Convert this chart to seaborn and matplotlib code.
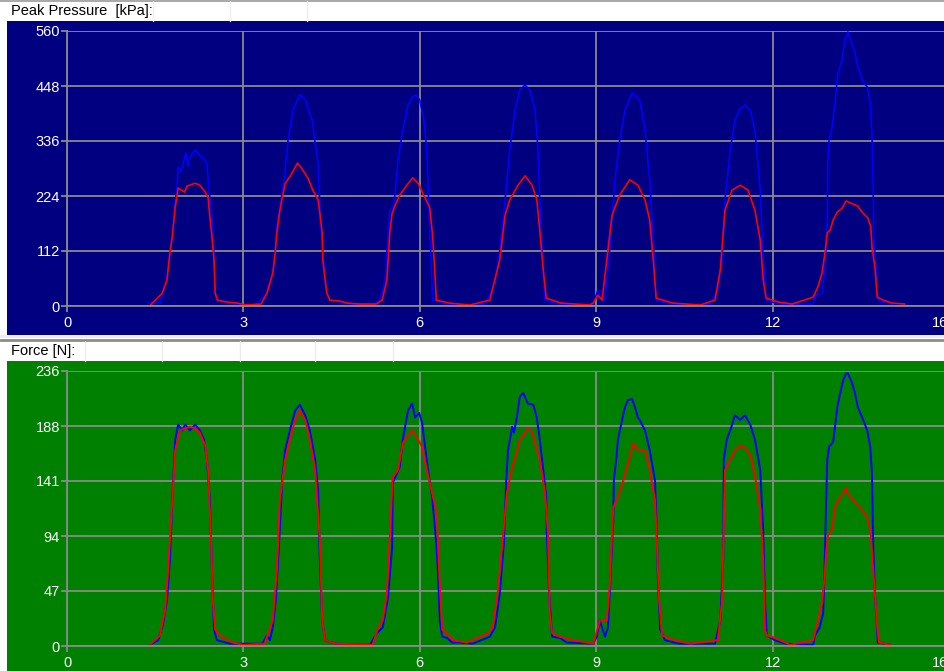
import matplotlib
matplotlib.use("Agg")
import numpy as np
import pandas as pd
import matplotlib.pyplot as plt
from matplotlib.patches import Rectangle
from matplotlib.lines import Line2D
import seaborn as sns

# ---------------- data ----------------
# Peak pressure [kPa], right foot (blue trace)
pressure_right_t = [1.38, 1.58, 1.63, 1.70, 1.75, 1.79, 1.82, 1.87, 1.89, 1.94, 1.99, 2.02, 2.06, 2.09, 2.18, 2.26, 2.35, 2.38, 2.41, 2.45, 2.48, 2.50, 2.52, 2.55, 2.72, 2.91, 3.03,
                    3.23, 3.40, 3.50, 3.54, 3.57, 3.62, 3.67, 3.71, 3.76, 3.84, 3.96, 4.06, 4.13, 4.17, 4.22, 4.27, 4.30, 4.35, 4.39, 4.42, 4.47, 4.69, 4.85,
                    5.20, 5.32, 5.41, 5.46, 5.49, 5.56, 5.63, 5.71, 5.80, 5.87, 5.94, 6.00, 6.07, 6.12, 6.15, 6.19, 6.22, 6.40, 6.60,
                    7.11, 7.28, 7.36, 7.45, 7.53, 7.62, 7.70, 7.79, 7.87, 7.96, 8.01, 8.04, 8.08, 8.13, 8.30, 8.60,
                    8.95, 9.03, 9.10, 9.15, 9.23, 9.32, 9.40, 9.49, 9.61, 9.74, 9.83, 9.91, 9.97, 10.02, 10.20, 10.50,
                    10.94, 11.07, 11.14, 11.19, 11.28, 11.36, 11.45, 11.53, 11.62, 11.70, 11.79, 11.84, 11.89, 12.05, 12.30,
                    12.47, 12.69, 12.72, 12.84, 12.89, 12.93, 12.94, 12.96, 13.01, 13.06, 13.11, 13.18, 13.23, 13.28, 13.33, 13.40, 13.45, 13.54, 13.61, 13.66, 13.69, 13.71, 13.72, 13.76, 13.78, 13.83, 14.00, 14.05]
pressure_right = [6, 6, 26, 53, 108, 140, 189, 242, 283, 275, 297, 311, 285, 303, 318, 307, 297, 287, 242, 201, 155, 94, 26, 12, 6, 4, 0,
                  4, 26, 67, 108, 161, 195, 242, 277, 338, 399, 430, 419, 389, 379, 332, 291, 201, 108, 53, 26, 12, 8, 4,
                  4, 12, 53, 150, 195, 205, 297, 358, 409, 425, 430, 419, 379, 318, 216, 94, 12, 6, 2,
                  4, 47, 114, 216, 318, 399, 440, 450, 440, 399, 318, 216, 114, 12, 6, 2,
                  4, 33, 12, 12, 114, 257, 338, 399, 434, 419, 358, 257, 134, 12, 6, 2,
                  4, 33, 94, 216, 318, 379, 403, 409, 399, 358, 236, 94, 12, 6, 2,
                  4, 4, 22, 26, 73, 175, 297, 338, 364, 413, 474, 501, 542, 558, 542, 515, 487, 456, 446, 413, 352, 242, 140, 73, 18, 8, 8, 2]

# Peak pressure [kPa], left foot (red trace)
pressure_left_t = [1.42, 1.62, 1.70, 1.75, 1.79, 1.84, 1.89, 1.95, 2.00, 2.04, 2.18, 2.26, 2.35, 2.40, 2.43, 2.46, 2.50, 2.52, 2.56, 2.72, 2.90, 3.03,
                   3.30, 3.40, 3.50, 3.54, 3.57, 3.62, 3.71, 3.79, 3.92, 4.01, 4.10, 4.18, 4.27, 4.30, 4.34, 4.35, 4.39, 4.42, 4.47, 4.64, 4.76, 4.98,
                   5.26, 5.36, 5.44, 5.49, 5.53, 5.58, 5.66, 5.78, 5.88, 5.97, 6.09, 6.17, 6.22, 6.26, 6.28, 6.50, 6.85,
                   7.19, 7.36, 7.45, 7.53, 7.67, 7.79, 7.91, 7.99, 8.04, 8.10, 8.15, 8.40, 8.89,
                   8.95, 9.03, 9.10, 9.18, 9.27, 9.40, 9.57, 9.71, 9.83, 9.91, 9.97, 10.02, 10.30, 10.77,
                   11.02, 11.11, 11.19, 11.31, 11.45, 11.58, 11.70, 11.79, 11.84, 11.89, 12.10, 12.33,
                   12.69, 12.77, 12.84, 12.89, 12.93, 12.98, 13.03, 13.10, 13.18, 13.25, 13.32, 13.44, 13.54, 13.62, 13.67, 13.69, 13.74, 13.78, 13.88, 14.03, 14.25]
pressure_left = [2, 26, 53, 108, 140, 201, 240, 236, 232, 244, 250, 246, 232, 220, 181, 148, 94, 26, 12, 8, 6, 2,
                 4, 26, 67, 108, 150, 195, 250, 263, 291, 277, 260, 236, 216, 189, 149, 94, 53, 26, 12, 10, 6, 4,
                 4, 12, 53, 150, 189, 205, 226, 246, 261, 250, 220, 200, 140, 60, 12, 6, 2,
                 12, 94, 185, 216, 246, 265, 246, 216, 155, 73, 16, 6, 2,
                 6, 22, 12, 94, 185, 226, 257, 246, 216, 175, 94, 16, 6, 2,
                 12, 73, 195, 236, 246, 236, 195, 134, 53, 16, 8, 4,
                 18, 39, 67, 108, 149, 155, 175, 191, 199, 214, 210, 204, 189, 179, 161, 120, 79, 18, 12, 6, 4]

# Force [N], right foot (blue trace)
force_right_t = [1.41, 1.55, 1.63, 1.70, 1.75, 1.79, 1.84, 1.89, 1.96, 2.01, 2.09, 2.18, 2.26, 2.33, 2.38, 2.43, 2.47, 2.50, 2.55, 2.77,
                 3.32, 3.40, 3.45, 3.50, 3.55, 3.61, 3.66, 3.71, 3.79, 3.88, 3.96, 4.05, 4.13, 4.22, 4.27, 4.30, 4.34, 4.39, 4.56,
                 5.15, 5.27, 5.37, 5.46, 5.53, 5.54, 5.61, 5.66, 5.71, 5.80, 5.87, 5.92, 5.99, 6.04, 6.09, 6.14, 6.21, 6.28, 6.31, 6.34, 6.38, 6.46, 6.55, 6.68, 6.90,
                 7.19, 7.28, 7.36, 7.43, 7.47, 7.50, 7.57, 7.60, 7.65, 7.70, 7.76, 7.84, 7.93, 7.99, 8.04, 8.10, 8.15, 8.16, 8.20, 8.25, 8.38, 8.50, 8.95,
                 9.01, 9.06, 9.15, 9.20, 9.23, 9.29, 9.30, 9.34, 9.37, 9.44, 9.49, 9.54, 9.61, 9.66, 9.71, 9.74, 9.83, 9.91, 10.00, 10.03, 10.05, 10.09, 10.17, 10.40,
                 11.02, 11.11, 11.16, 11.17, 11.22, 11.28, 11.36, 11.45, 11.53, 11.62, 11.70, 11.79, 11.84, 11.87, 11.90, 12.04, 12.21,
                 12.69, 12.72, 12.80, 12.86, 12.88, 12.91, 12.93, 12.96, 13.03, 13.06, 13.10, 13.15, 13.20, 13.25, 13.28, 13.35, 13.40, 13.45, 13.54, 13.61, 13.66, 13.69, 13.71, 13.74, 13.78, 13.79, 14.00]
force_right = [1, 5, 18, 39, 74, 125, 177, 190, 185, 190, 185, 190, 185, 177, 160, 125, 57, 14, 5, 2,
               2, 9, 5, 16, 39, 91, 142, 168, 185, 202, 207, 198, 185, 160, 134, 74, 22, 5, 2,
               1, 11, 16, 42, 85, 140, 148, 154, 177, 202, 208, 196, 200, 191, 171, 151, 128, 88, 63, 22, 8, 7, 3, 3, 2,
               8, 16, 45, 88, 142, 168, 188, 183, 196, 214, 217, 208, 207, 196, 177, 151, 128, 97, 45, 8, 7, 3, 2,
               8, 22, 8, 16, 45, 108, 142, 160, 177, 194, 205, 211, 212, 205, 196, 194, 185, 168, 142, 99, 57, 14, 5, 2,
               2, 22, 74, 160, 177, 185, 198, 194, 198, 190, 177, 151, 99, 39, 9, 5, 2,
               1, 9, 16, 28, 59, 123, 160, 171, 175, 188, 205, 217, 228, 234, 234, 226, 217, 205, 194, 185, 171, 148, 88, 45, 11, 3, 1]

# Force [N], left foot (red trace)
force_left_t = [1.41, 1.58, 1.67, 1.72, 1.79, 1.84, 1.92, 2.01, 2.09, 2.18, 2.26, 2.35, 2.40, 2.45, 2.48, 2.52, 2.60, 2.81, 3.00,
                3.36, 3.42, 3.50, 3.57, 3.62, 3.71, 3.79, 3.88, 3.96, 4.05, 4.13, 4.22, 4.30, 4.34, 4.39, 4.56,
                5.20, 5.29, 5.37, 5.44, 5.49, 5.54, 5.63, 5.71, 5.80, 5.87, 5.95, 6.04, 6.12, 6.21, 6.29, 6.33, 6.38, 6.46, 6.56, 6.80,
                7.16, 7.24, 7.33, 7.41, 7.48, 7.57, 7.65, 7.70, 7.79, 7.84, 7.91, 7.96, 8.04, 8.13, 8.18, 8.21, 8.25, 8.38, 8.61, 8.95,
                9.03, 9.06, 9.18, 9.23, 9.29, 9.37, 9.46, 9.54, 9.63, 9.71, 9.83, 9.91, 10.00, 10.03, 10.07, 10.12, 10.34, 10.60,
                11.07, 11.14, 11.19, 11.28, 11.36, 11.45, 11.53, 11.62, 11.70, 11.79, 11.84, 11.87, 11.90, 12.04, 12.21, 12.30,
                12.69, 12.76, 12.84, 12.88, 12.91, 12.94, 13.01, 13.06, 13.11, 13.20, 13.25, 13.28, 13.40, 13.52, 13.61, 13.67, 13.69, 13.74, 13.78, 13.81, 14.00]
force_left = [1, 9, 31, 65, 125, 168, 185, 187, 188, 187, 183, 172, 151, 91, 39, 14, 9, 3, 1,
              2, 11, 22, 65, 125, 160, 177, 194, 202, 194, 177, 151, 91, 22, 5, 2,
              1, 16, 22, 45, 94, 145, 151, 174, 181, 185, 179, 171, 151, 131, 114, 63, 14, 11, 5, 3,
              11, 16, 48, 91, 131, 153, 166, 177, 183, 187, 184, 174, 160, 131, 97, 28, 11, 8, 5, 2,
              16, 22, 22, 51, 119, 128, 142, 157, 174, 168, 168, 151, 125, 91, 39, 9, 5, 2,
              5, 39, 151, 160, 168, 172, 170, 164, 146, 117, 74, 14, 9, 7, 3, 1,
              5, 20, 37, 57, 80, 95, 100, 119, 125, 131, 136, 131, 123, 117, 110, 97, 80, 45, 16, 3, 1]

x_tick_values = [0, 3, 6, 9, 12]
x_tick_labels = ["0", "3", "6", "9", "12"]
x_end_label = "16"
pressure_tick_labels = ["0", "112", "224", "336", "448", "560"]
force_tick_labels = ["0", "47", "94", "141", "188", "236"]
pressure_title = "Peak Pressure  [kPa]:"
force_title = "Force [N]:"

# ---------------- layout ----------------
sns.set_theme(style="white")
plt.rcParams["font.family"] = ["Liberation Sans", "DejaVu Sans"]

W, H = 944, 671
fig = plt.figure(figsize=(W / 100, H / 100), dpi=100)
fig.patch.set_facecolor("white")

FS = 10.5


def fx(px):
    return px / W


def fy(py):
    return 1 - py / H


def band(x0, y0, x1, y1, color, z=-5):
    fig.add_artist(Rectangle((fx(x0), fy(y1)), fx(x1) - fx(x0), fy(y0) - fy(y1),
                             transform=fig.transFigure, facecolor=color,
                             edgecolor="none", zorder=z))


def vline(px, y0, y1, color="#ededed", lw=1.0):
    fig.add_artist(Line2D([fx(px), fx(px)], [fy(y0), fy(y1)], transform=fig.transFigure,
                          color=color, lw=lw, zorder=-4))


def hline(py, color, lw):
    fig.add_artist(Line2D([0, 1], [fy(py), fy(py)], transform=fig.transFigure,
                          color=color, lw=lw, zorder=-4))


NAVY = "#000080"
GREEN = "#008000"
GRID = "#8a8a8a"

# panel headers and separators
hline(0.5, "#9a9a9a", 1.2)
for px in (153, 230, 307):
    vline(px, 1, 21)
band(7, 21, W, 335, NAVY)
band(0, 335, W, 338, "#ececf4")
hline(339.5, "#8c8c8c", 2.0)
for px in (85, 162, 240, 315, 393):
    vline(px, 341, 361)
band(7, 361, W, H, GREEN)

fig.text(fx(11), fy(11), pressure_title, fontsize=FS, color="black", va="center", ha="left")
fig.text(fx(11), fy(351), force_title, fontsize=FS, color="black", va="center", ha="left")

px_per_unit = 58.8
x0_px = 67
xmax = (W - x0_px) / px_per_unit
x_end_pos = (940 - x0_px) / px_per_unit


def make_axes(top_px, bottom_px, bg, ymax, labels):
    ax = fig.add_axes([fx(x0_px), fy(bottom_px), fx(W) - fx(x0_px), fy(top_px) - fy(bottom_px)])
    ax.set_facecolor(bg)
    ax.set_xlim(0, xmax)
    ax.set_ylim(0, ymax)
    ax.set_xticks(x_tick_values + [x_end_pos])
    ax.set_xticklabels(x_tick_labels + [x_end_label])
    ax.set_yticks(np.linspace(0, ymax, len(labels)))
    ax.set_yticklabels(labels)
    ax.grid(True, color=GRID, lw=1.3)
    ax.set_axisbelow(True)
    for side in ("top", "right"):
        ax.spines[side].set_visible(False)
    for side in ("left", "bottom"):
        ax.spines[side].set_color(GRID)
        ax.spines[side].set_linewidth(1.3)
    ax.tick_params(axis="both", which="both", direction="out", length=4, width=1.3,
                   color=GRID, labelcolor="white", labelsize=FS,
                   bottom=True, left=True)
    ax.tick_params(axis="x", pad=3.5)
    ax.tick_params(axis="y", pad=1)
    # the end label sits at the panel edge without its own grid line
    last = ax.xaxis.get_major_ticks()[-1]
    last.gridline.set_visible(False)
    last.tick1line.set_visible(False)
    return ax


def frame(t_a, v_a, t_b, v_b):
    a = pd.DataFrame({"t": t_a, "v": v_a, "foot": "right"})
    b = pd.DataFrame({"t": t_b, "v": v_b, "foot": "left"})
    return pd.concat([a, b], ignore_index=True)


palette = {"right": "#0000ff", "left": "#ff0000"}

ax1 = make_axes(31, 306, NAVY, 560, pressure_tick_labels)
sns.lineplot(data=frame(pressure_right_t, pressure_right, pressure_left_t, pressure_left),
             x="t", y="v", hue="foot", hue_order=["right", "left"], palette=palette,
             estimator=None, sort=False, legend=False, lw=1.2, ax=ax1)
ax1.set_xlabel("")
ax1.set_ylabel("")

ax2 = make_axes(371, 646, GREEN, 236, force_tick_labels)
sns.lineplot(data=frame(force_right_t, force_right, force_left_t, force_left),
             x="t", y="v", hue="foot", hue_order=["right", "left"], palette=palette,
             estimator=None, sort=False, legend=False, lw=1.4, ax=ax2)
ax2.set_xlabel("")
ax2.set_ylabel("")

# keep the edge labels visible even after the per-tick tweaks
for ax in (ax1, ax2):
    last = ax.xaxis.get_major_ticks()[-1]
    last.gridline.set_visible(False)
    last.tick1line.set_visible(False)

fig.savefig("out.png", dpi=100)
